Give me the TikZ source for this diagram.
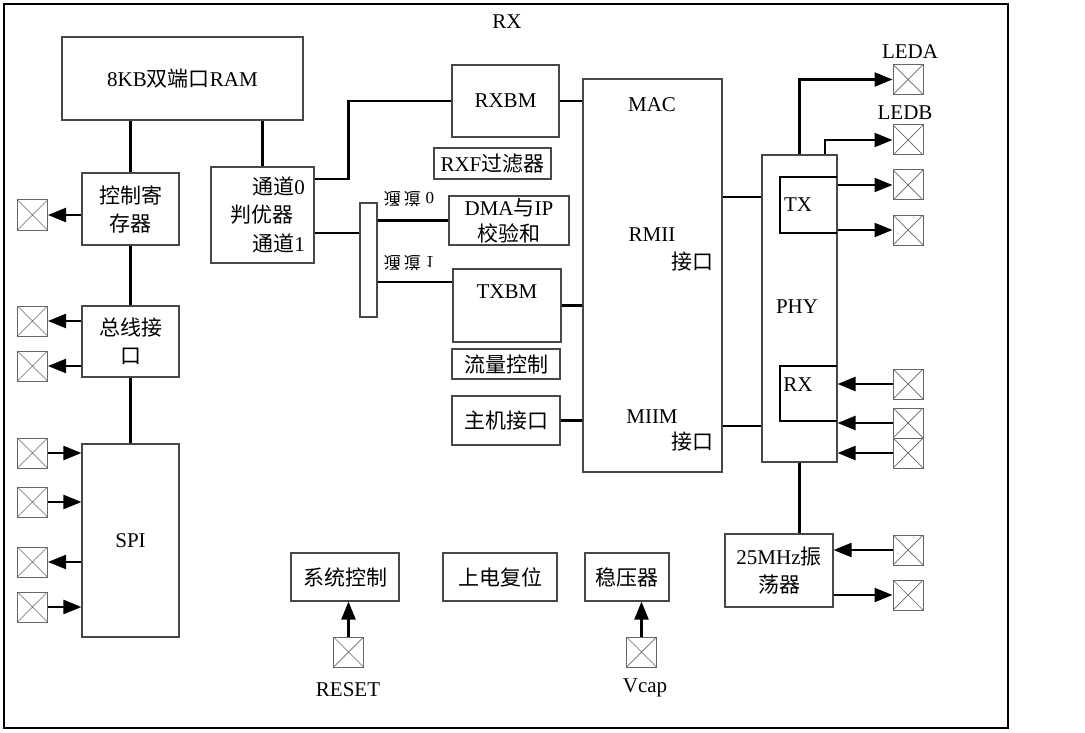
\documentclass[tikz,border=0pt]{standalone}
\usepackage{fontspec}
\usepackage{graphicx}
\setmainfont{Liberation Serif}
\newfontfamily\cjk{Noto Sans CJK SC}
\usetikzlibrary{arrows.meta,calc}
\begin{document}
\begin{tikzpicture}[x=1pt,y=-1pt,
  every node/.style={font=\fontsize{21}{28}\selectfont},
  box/.style={draw=black!72, line width=1.1pt, inner sep=0pt, align=center},
  padbox/.style={draw=black!60, line width=1pt, minimum size=30pt, inner sep=0pt,
    path picture={\draw[black!60, line width=0.7pt]
      (path picture bounding box.south west) -- (path picture bounding box.north east)
      (path picture bounding box.north west) -- (path picture bounding box.south east);}},
  wire/.style={line width=2.2pt, black},
  arr/.style={wire, -{Triangle[length=18pt,width=14pt]}},
  lbl/.style={inner sep=0pt}
]
\useasboundingbox (0,0) rectangle (1085,733);
\draw[line width=2pt] (4,4) rectangle (1008,728);
\node[lbl] (title) at (507,22) {RX};

% left column
\node[box, minimum width=241pt, minimum height=83pt] (ram) at (182.5,78.5) {8KB{\cjk 双端口}RAM};
\node[box, minimum width=97pt, minimum height=72pt] (ctrl) at (130.5,209) {\cjk 控制寄\\\cjk 存器};
\node[box, minimum width=97pt, minimum height=71pt] (bus) at (130.5,341.5) {\cjk 总线接\\\cjk 口};
\node[box, minimum width=97pt, minimum height=193pt] (spi) at (130.5,540.5) {SPI};

\node[padbox] (l1) at (32.5,215) {};
\node[padbox] (l2) at (32.5,321) {};
\node[padbox] (l3) at (32.5,366) {};
\node[padbox] (l4) at (32.5,453) {};
\node[padbox] (l5) at (32.5,502) {};
\node[padbox] (l6) at (32.5,562) {};
\node[padbox] (l7) at (32.5,607) {};

\draw[wire] (ram.south -| ctrl.north) -- (ctrl.north);
\draw[wire] (ctrl.south) -- (bus.north);
\draw[wire] (bus.south) -- (spi.north);
\draw[arr] (ctrl.west |- l1.east) -- (l1.east);
\draw[arr] (bus.west |- l2.east) -- (l2.east);
\draw[arr] (bus.west |- l3.east) -- (l3.east);
\draw[arr] (l4.east) -- (spi.west |- l4.east);
\draw[arr] (l5.east) -- (spi.west |- l5.east);
\draw[arr] (spi.west |- l6.east) -- (l6.east);
\draw[arr] (l7.east) -- (spi.west |- l7.east);

% arbiter
\node[box, minimum width=103pt, minimum height=96pt] (arb) at (262.5,215) {};
\node[lbl, anchor=east] (ch0) at (305,186) {{\cjk 通道}0};
\node[lbl] (arbt) at (262,215) {\cjk 判优器};
\node[lbl, anchor=east] (ch1) at (305,243) {{\cjk 通道}1};
\draw[wire] (arb.north) -- (arb.north |- ram.south);

% middle column
\node[box, minimum width=107pt, minimum height=72pt] (rxbm) at (505.5,101) {RXBM};
\node[box, minimum width=117pt, minimum height=31pt] (rxf) at (492.5,163.5) {RXF{\cjk 过滤器}};
\node[box, minimum width=120pt, minimum height=49pt] (dma) at (509,220.5) {};
\node[lbl] (dmat) at (509,208) {DMA{\cjk 与}IP};
\node[lbl] (dmab) at (509,233) {\cjk 校验和};
\node[box, minimum width=108pt, minimum height=73pt] (txbm) at (507,305.5) {};
\node[lbl] (txbmt) at (507,292) {TXBM};
\node[box, minimum width=108pt, minimum height=30pt] (flow) at (506,364) {\cjk 流量控制};
\node[box, minimum width=108pt, minimum height=49pt] (host) at (506,420.5) {\cjk 主机接口};

\node[box, minimum width=17pt, minimum height=114pt] (brk) at (368.5,260) {};
\node[lbl] (f0) at (409,199) {\fontsize{17}{17}\selectfont\scalebox{1}[-1]{{\cjk 通\,道}\;0}};
\node[lbl] (f1) at (409,263) {\fontsize{17}{17}\selectfont\scalebox{1}[-1]{{\cjk 通\,道}\;1}};

\coordinate (c0) at ([yshift=36pt]arb.east);
\coordinate (c1) at ([yshift=-18pt]arb.east);
\coordinate (t1) at ([yshift=23.5pt]txbm.west);
\draw[wire] (c0) -- ++(34,0) |- (rxbm.west);
\draw[wire] (c1) -- (brk.west |- c1);
\draw[wire] (brk.east |- dma.west) -- (dma.west);
\draw[wire] (brk.east |- t1) -- (t1);

% MAC
\node[box, minimum width=139pt, minimum height=393pt] (mac) at (652.5,275.5) {};
\node[lbl] (mact) at (652,105) {MAC};
\node[lbl] (rmii) at (652,235) {RMII};
\node[lbl] (rmiij) at (692,262) {\cjk 接口};
\node[lbl] (miim) at (652,417) {MIIM};
\node[lbl] (miimj) at (692,442) {\cjk 接口};
\draw[wire] (rxbm.east) -- (mac.west |- rxbm.east);
\draw[wire] (txbm.east) -- (mac.west |- txbm.east);
\draw[wire] (host.east) -- (mac.west |- host.east);

% PHY
\node[box, minimum width=75pt, minimum height=307pt] (phy) at (799.5,308.5) {};
\node[lbl] (phyt) at (797,307) {PHY};
\draw[line width=1.8pt] (837,177) -- (780,177) -- (780,233) -- (837,233);
\node[lbl] (tx) at (798,205) {TX};
\draw[line width=1.8pt] (837,366) -- (780,366) -- (780,421) -- (837,421);
\node[lbl] (rx) at (798,385) {RX};
\coordinate (m0) at ([yshift=78.5pt]mac.east);
\coordinate (m1) at ([yshift=-150.5pt]mac.east);
\draw[wire] (m0) -- (phy.west |- m0);
\draw[wire] (m1) -- (phy.west |- m1);

\node[padbox] (leda) at (908,79.5) {};
\node[lbl] (ledat) at (910,52) {LEDA};
\node[padbox] (ledb) at (908,140) {};
\node[lbl] (ledbt) at (905,113) {LEDB};
\node[padbox] (r1) at (908,185) {};
\node[padbox] (r2) at (908,230) {};
\node[padbox] (r3) at (908,384) {};
\node[padbox] (r4) at (908,423) {};
\node[padbox] (r5) at (908,453) {};
\coordinate (pb) at ([xshift=25.5pt]phy.north);
\draw[arr] (phy.north) |- (leda.west);
\draw[arr] (pb) |- (ledb.west);
\draw[arr] (phy.east |- r1.west) -- (r1.west);
\draw[arr] (phy.east |- r2.west) -- (r2.west);
\draw[arr] (r3.west) -- (phy.east |- r3.west);
\draw[arr] (r4.west) -- (phy.east |- r4.west);
\draw[arr] (r5.west) -- (phy.east |- r5.west);

% oscillator
\node[box, minimum width=108pt, minimum height=73pt] (osc) at (779,570.5) {25MHz{\cjk 振}\\\cjk 荡器};
\node[padbox] (o1) at (908,550) {};
\node[padbox] (o2) at (908,595) {};
\draw[wire] (phy.south) -- (osc.north -| phy.south);
\draw[arr] (o1.west) -- (osc.east |- o1.west);
\draw[arr] (osc.east |- o2.west) -- (o2.west);

% bottom row
\node[box, minimum width=108pt, minimum height=48pt] (sys) at (345,577) {\cjk 系统控制};
\node[box, minimum width=114pt, minimum height=48pt] (por) at (500,577) {\cjk 上电复位};
\node[box, minimum width=84pt, minimum height=48pt] (reg) at (627,577) {\cjk 稳压器};
\node[padbox] (rst) at (348.5,652) {};
\node[padbox] (vcp) at (641.5,652) {};
\node[lbl] (rstt) at (348,690) {RESET};
\node[lbl] (vcpt) at (645,688) {Vcap};
\draw[arr] (rst.north) -- (sys.south -| rst.north);
\draw[arr] (vcp.north) -- (reg.south -| vcp.north);
\end{tikzpicture}
\end{document}
